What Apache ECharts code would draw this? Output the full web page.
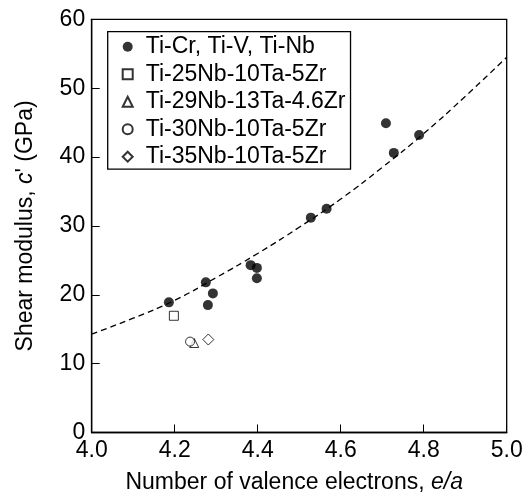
<!DOCTYPE html>
<html>
<head>
<meta charset="utf-8">
<script src="https://cdn.jsdelivr.net/npm/echarts@6/dist/echarts.min.js"></script>
<style>
  html, body { margin: 0; padding: 0; background: #fff; }
  #chart { width: 529px; height: 499px; }
</style>
</head>
<body>
<div id="chart"></div>
<script>
// values
const tiAlloys = [
  [4.186, 18.9], [4.275, 21.8], [4.292, 20.2], [4.280, 18.5],
  [4.383, 24.3], [4.398, 23.9], [4.398, 22.4], [4.528, 31.2],
  [4.566, 32.5], [4.709, 44.9], [4.728, 40.6], [4.789, 43.2]
]
const nb25 = [[4.198, 16.95]]
const nb29 = [[4.247, 13.0]]
const nb30 = [[4.237, 13.2]]
const nb35 = [[4.281, 13.5]]
// dashed fit curve
const fitCurve = [
  [4.0, 14.3], [4.1, 16.6], [4.2, 19.2], [4.3, 22.5], [4.4, 26.0],
  [4.5, 29.8], [4.6, 33.9], [4.7, 38.5], [4.8, 43.4], [4.9, 48.8], [5.0, 54.5]
]
const seriesNames = ['Ti-Cr, Ti-V, Ti-Nb', 'Ti-25Nb-10Ta-5Zr', 'Ti-29Nb-13Ta-4.6Zr', 'Ti-30Nb-10Ta-5Zr', 'Ti-35Nb-10Ta-5Zr']

const font = 'Liberation Sans'
const fs = 23

let chartInstance = echarts.init(document.getElementById('chart'))

const openMarker = (name, data, symbol, size) => {
  return {
    name: name,
    type: 'scatter',
    data: data,
    symbol: symbol,
    symbolSize: size,
    itemStyle: { color: '#fff', borderColor: '#000', borderWidth: 1 },
    z: 4
  }
}

const option = {
  animation: false,
  textStyle: { fontFamily: font },
  grid: {
    left: 91.7,
    right: 22.3,
    top: 19.3,
    bottom: 66.5,
    show: true,
    borderColor: '#000',
    borderWidth: 1.3,
    backgroundColor: 'transparent'
  },
  legend: {
    data: seriesNames,
    orient: 'vertical',
    left: 107.7,
    top: 31.7,
    itemWidth: 10,
    itemHeight: 10,
    itemGap: 4.5,
    padding: [3.5, 5, 1, 14],
    borderColor: '#000',
    borderWidth: 1.3,
    textStyle: { fontFamily: font, fontSize: fs, color: '#000', lineHeight: 23, padding: [0, 0, 0, 8] }
  },
  xAxis: {
    type: 'value',
    min: 4.0,
    max: 5.0,
    interval: 0.2,
    name: 'Number of valence electrons, {i|e/a}',
    nameLocation: 'middle',
    nameGap: 38.5,
    nameTextStyle: {
      fontFamily: font, fontSize: fs, color: '#000',
      padding: [0, 10, 0, 0],
      rich: { i: { fontFamily: font, fontSize: fs, fontStyle: 'italic', color: '#000' } }
    },
    axisLine: { lineStyle: { color: '#000', width: 1.3 } },
    axisTick: { inside: true, length: 8, lineStyle: { color: '#000', width: 1 } },
    axisLabel: { color: '#000', fontSize: fs, fontFamily: font, margin: 7, formatter: v => v.toFixed(1) },
    splitLine: { show: false }
  },
  yAxis: {
    type: 'value',
    min: 0,
    max: 60,
    interval: 10,
    name: "Shear modulus, {i|c}' (GPa)",
    nameLocation: 'middle',
    nameGap: 55,
    nameTextStyle: {
      fontFamily: font, fontSize: fs, color: '#000',
      rich: { i: { fontFamily: font, fontSize: fs, fontStyle: 'italic', color: '#000' } }
    },
    axisLine: { lineStyle: { color: '#000', width: 1.3 } },
    axisTick: { inside: true, length: 8, lineStyle: { color: '#000', width: 1 } },
    axisLabel: { color: '#000', fontSize: fs, fontFamily: font, margin: 6.5 },
    splitLine: { show: false }
  },
  series: [
    {
      name: 'fit',
      type: 'line',
      data: fitCurve,
      smooth: true,
      showSymbol: false,
      lineStyle: { color: '#000', width: 1.3, type: [6, 4] },
      z: 1,
      silent: true
    },
    {
      name: seriesNames[0],
      type: 'scatter',
      data: tiAlloys,
      symbol: 'circle',
      symbolSize: 10,
      itemStyle: { color: '#000' },
      z: 5
    },
    openMarker(seriesNames[1], nb25, 'rect', 9),
    openMarker(seriesNames[2], nb29, 'triangle', 9),
    openMarker(seriesNames[3], nb30, 'circle', 9),
    openMarker(seriesNames[4], nb35, 'diamond', 11)
  ]
}

chartInstance.setOption(option)
</script>
</body>
</html>
